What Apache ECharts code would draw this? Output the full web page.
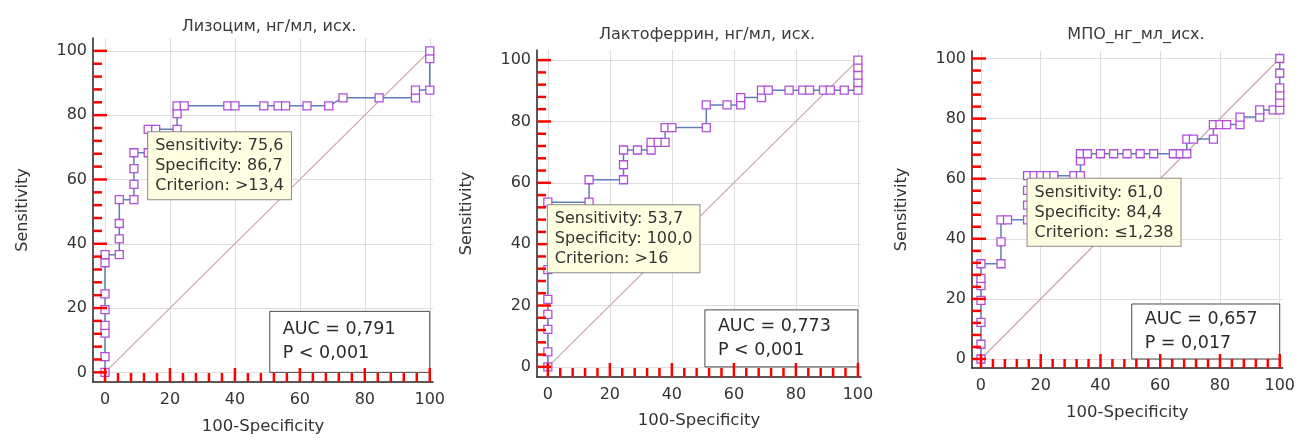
<!DOCTYPE html>
<html>
<head>
<meta charset="utf-8">
<script src="https://cdn.jsdelivr.net/npm/echarts@6/dist/echarts.min.js"></script>
<style>
  html, body { margin: 0; background: #fff; }
  #roc { width: 1298px; height: 441px; }
</style>
</head>
<body>
<div id="roc"></div>
<script>
  // заголовки
  const titles = ['Лизоцим, нг/мл, исх.', 'Лактоферрин, нг/мл, исх.', 'МПО_нг_мл_исх.'];
  const tickValues = [0, 20, 40, 60, 80, 100];
  const minorValues = [4, 8, 12, 16, 24, 28, 32, 36, 44, 48, 52, 56, 64, 68, 72, 76, 84, 88, 92, 96];
  const diagonal = [[0, 0], [100, 100]];

  // Лизоцим: 100-Specificity / Sensitivity
  const lysoX = [0, 0, 0, 0, 0, 0, 0, 0, 4.4, 4.4, 4.4, 4.4, 8.9, 8.9, 8.9, 8.9, 13.3, 13.3, 15.6,
    22.2, 22.2, 22.2, 24.4, 37.8, 40, 48.9, 53.3, 55.6, 62.2, 68.9, 73.3, 84.4, 95.6, 95.6, 100, 100, 100];
  const lysoY = [0, 4.9, 12.2, 14.6, 19.5, 24.4, 34.1, 36.6, 36.6, 41.5, 46.3, 53.7, 53.7, 58.5, 63.4, 68.3, 68.3, 75.6, 75.6,
    75.6, 80.5, 82.9, 82.9, 82.9, 82.9, 82.9, 82.9, 82.9, 82.9, 82.9, 85.4, 85.4, 85.4, 87.8, 87.8, 97.6, 100];

  // Лактоферрин
  const lactoX = [0, 0, 0, 0, 0, 0, 0, 13.3, 13.3, 24.4, 24.4, 24.4, 28.9, 33.3, 33.3, 35.6, 37.8, 37.8, 40,
    51.1, 51.1, 57.8, 62.2, 62.2, 68.9, 68.9, 71.1, 77.8, 82.2, 84.4, 88.9, 91.1, 95.6, 100, 100, 100, 100, 100];
  const lactoY = [0, 4.9, 12.2, 17.1, 22.0, 31.7, 53.7, 53.7, 61.0, 61.0, 65.9, 70.7, 70.7, 70.7, 73.2, 73.2, 73.2, 78.0, 78.0,
    78.0, 85.4, 85.4, 85.4, 87.8, 87.8, 90.2, 90.2, 90.2, 90.2, 90.2, 90.2, 90.2, 90.2, 90.2, 92.7, 95.1, 97.6, 100];

  // МПО
  const mpoX = [0, 0, 0, 0, 0, 0, 0, 6.7, 6.7, 6.7, 8.9, 15.6, 15.6, 15.6, 15.6, 17.8, 20, 22.2, 24.4, 31.1,
    33.3, 33.3, 33.3, 35.6, 40, 44.4, 48.9, 53.3, 57.8, 64.4, 66.7, 68.9, 68.9, 71.1, 77.8, 77.8, 80, 82.2,
    86.7, 86.7, 93.3, 93.3, 97.8, 100, 100, 100, 100, 100, 100];
  const mpoY = [0, 4.9, 12.2, 19.5, 24.4, 26.8, 31.7, 31.7, 39.0, 46.3, 46.3, 46.3, 51.2, 56.1, 61.0, 61.0, 61.0, 61.0, 61.0, 61.0,
    61.0, 65.9, 68.3, 68.3, 68.3, 68.3, 68.3, 68.3, 68.3, 68.3, 68.3, 68.3, 73.2, 73.2, 73.2, 78.0, 78.0, 78.0,
    78.0, 80.5, 80.5, 82.9, 82.9, 82.9, 85.4, 87.8, 90.2, 95.1, 100];

  // оптимальные точки (criterion) и подписи
  const cutPoints = [[13.3, 75.6], [0, 53.7], [15.6, 61.0]];
  const cutTexts = [
    ['Sensitivity: 75,6', 'Specificity: 86,7', 'Criterion: >13,4'],
    ['Sensitivity: 53,7', 'Specificity: 100,0', 'Criterion: >16'],
    ['Sensitivity: 61,0', 'Specificity: 84,4', 'Criterion: \u22641,238']
  ];
  const aucTexts = ['AUC = 0,791', 'AUC = 0,773', 'AUC = 0,657'];
  const pTexts = ['P < 0,001', 'P < 0,001', 'P = 0,017'];

  const FONT = 'DejaVu Sans';
  const AXIS = '#222222';
  const rocX = [lysoX, lactoX, mpoX];
  const rocY = [lysoY, lactoY, mpoY];
  const allTicks = tickValues.concat(minorValues);

  // положение графиков
  const layout = [
    { left: 93, top: 38, width: 340, height: 344, xMin: -3.7, xMax: 101, yMin: -3, yMax: 104, cx: 264, nameGap: 36, boxW: 160, boxH: 61 },
    { left: 537, top: 50, width: 324, height: 327, xMin: -3.5, xMax: 101, yMin: -3.3, yMax: 103.3, cx: 702, nameGap: 35, boxW: 153, boxH: 57 },
    { left: 972, top: 51, width: 315, height: 317, xMin: -3, xMax: 101, yMin: -3, yMax: 102.5, cx: 1131, nameGap: 36, boxW: 148, boxH: 55 }
  ];

  const option = {
    animation: false,
    title: [], grid: [], xAxis: [], yAxis: [], series: []
  };

  layout.forEach((g, i) => {
    option.title.push({
      text: titles[i], left: g.cx, top: i === 0 ? 14 : 22, textAlign: 'center',
      textStyle: { fontFamily: FONT, fontSize: 16, fontWeight: 'normal', color: '#3a3a3a' }
    });
    option.grid.push({ left: g.left, top: g.top, width: g.width, height: g.height });
    option.xAxis.push({
      type: 'value', gridIndex: i, min: g.xMin, max: g.xMax,
      name: '100-Specificity', nameLocation: 'middle', nameGap: g.nameGap,
      nameTextStyle: { fontFamily: FONT, fontSize: 16.5, color: '#333' },
      axisLine: { show: true, onZero: false, lineStyle: { color: AXIS, width: 1.5 } },
      axisTick: { show: false, customValues: tickValues },
      axisLabel: { customValues: tickValues, margin: 10, fontFamily: FONT, fontSize: 16, color: '#333' },
      splitLine: { show: true, lineStyle: { color: '#dedede' } }
    });
    option.yAxis.push({
      type: 'value', gridIndex: i, min: g.yMin, max: g.yMax,
      name: 'Sensitivity', nameLocation: 'middle', nameGap: 62, nameRotate: 90,
      nameTextStyle: { fontFamily: FONT, fontSize: 16, color: '#333' },
      axisLine: { show: true, onZero: false, lineStyle: { color: AXIS, width: 1.5 } },
      axisTick: { show: false, customValues: tickValues },
      axisLabel: { customValues: tickValues, margin: 6, fontFamily: FONT, fontSize: 16, color: '#333' },
      splitLine: { show: true, lineStyle: { color: '#dedede' } }
    });

    option.series.push({
      type: 'line', xAxisIndex: i, yAxisIndex: i, data: diagonal,
      showSymbol: false, silent: true, z: 2,
      lineStyle: { color: '#caa6a6', width: 1.2 }
    });

    option.series.push({
      type: 'line', xAxisIndex: i, yAxisIndex: i, clip: false, z: 4,
      data: rocX[i].map((x, k) => [x, rocY[i][k]]),
      symbol: 'rect', symbolSize: 8, showAllSymbol: true,
      lineStyle: { color: '#5d7fb6', width: 1.5 },
      itemStyle: { color: '#ffffff', borderColor: '#b24fd8', borderWidth: 1.3 }
    });

    // деления оси X (внутрь, вверх)
    option.series.push({
      type: 'custom', xAxisIndex: i, yAxisIndex: i, z: 10,
      data: allTicks.map(v => [v, g.yMin]),
      renderItem(params, api) {
        const v = api.value(0);
        const p = api.coord([v, api.value(1)]);
        const len = v % 20 === 0 ? 14 : 9;
        return { type: 'line', shape: { x1: p[0], y1: p[1], x2: p[0], y2: p[1] - len },
                 style: { stroke: 'red', lineWidth: 2.5 } };
      }
    });
    // деления оси Y (внутрь, вправо)
    option.series.push({
      type: 'custom', xAxisIndex: i, yAxisIndex: i, z: 10,
      data: allTicks.map(v => [g.xMin, v]),
      renderItem(params, api) {
        const v = api.value(1);
        const p = api.coord([api.value(0), v]);
        const len = v % 20 === 0 ? 14 : 9;
        return { type: 'line', shape: { x1: p[0], y1: p[1], x2: p[0] + len, y2: p[1] },
                 style: { stroke: 'red', lineWidth: 2.5 } };
      }
    });
  });

  const chart = echarts.init(document.getElementById('roc'));
  chart.setOption(option);

  // подсказки и AUC
  const graphic = [];
  layout.forEach((g, i) => {
    const p = chart.convertToPixel({ gridIndex: i }, cutPoints[i]);
    graphic.push({
      type: 'text', x: p[0], y: p[1] + 3, z: 100, silent: true,
      style: {
        text: cutTexts[i].join('\n'), fontFamily: FONT, fontSize: 16, lineHeight: 20, fill: '#333',
        backgroundColor: '#ffffe1', borderColor: '#8a8a8a', borderWidth: 1, padding: [4, 7, 3, 7]
      }
    });
    const q = chart.convertToPixel({ gridIndex: i }, [100, 0]);
    graphic.push({
      type: 'group', x: q[0] - g.boxW, y: q[1] - g.boxH, z: 100, silent: true,
      children: [
        { type: 'rect', shape: { x: 0, y: 0, width: g.boxW, height: g.boxH },
          style: { fill: '#ffffff', stroke: '#4a4a4a', lineWidth: 1 } },
        { type: 'text', x: 13, y: g.boxH / 2,
          style: { text: aucTexts[i] + '\n' + pTexts[i], fontFamily: FONT, fontSize: 17.5, lineHeight: 24,
                   fill: '#2b2b2b', verticalAlign: 'middle' } }
      ]
    });
  });
  chart.setOption({ graphic: graphic });
</script>
</body>
</html>
